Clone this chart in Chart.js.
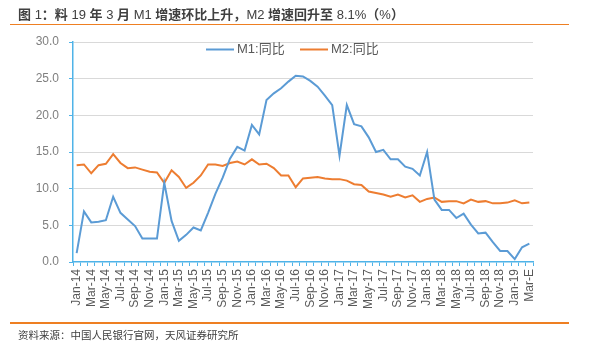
<!DOCTYPE html>
<html>
<head>
<meta charset="utf-8">
<script src="https://cdn.jsdelivr.net/npm/chart.js@4"></script>
<style>
  html, body { margin: 0; padding: 0; background: #fff; }
  #wrap { position: relative; width: 591px; height: 352px; overflow: hidden; }
  #chart { position: absolute; left: 0; top: 0; }
  .title {
    position: absolute; left: 18px; top: 4px;
    font: bold 13px "Noto Sans CJK SC", sans-serif;
    color: #404040; white-space: nowrap;
  }
  .title span { font: 13px "Liberation Sans", sans-serif; }
  .rule { position: absolute; left: 10px; width: 559px; height: 1.5px; background: #EE7F22; }
  .source {
    position: absolute; left: 18px; top: 327px;
    font: 10.5px "Noto Sans CJK SC", sans-serif;
    color: #404040; white-space: nowrap;
  }
</style>
</head>
<body>
<div id="wrap">
  <canvas id="chart" width="591" height="352"></canvas>
  <div class="title">图<span> 1</span>：料<span> 19 </span>年<span> 3 </span>月<span> M1 </span>增速环比上升，<span>M2 </span>增速回升至<span> 8.1%</span>（<span>%</span>）</div>
  <div class="rule" style="top:23.5px"></div>
  <div class="rule" style="top:322px"></div>
  <div class="source">资料来源：中国人民银行官网，天风证券研究所</div>
</div>
<script>
// months Jan-14 .. Mar-19
const months = [
  'Jan-14','Feb-14','Mar-14','Apr-14','May-14','Jun-14','Jul-14','Aug-14','Sep-14','Oct-14','Nov-14','Dec-14',
  'Jan-15','Feb-15','Mar-15','Apr-15','May-15','Jun-15','Jul-15','Aug-15','Sep-15','Oct-15','Nov-15','Dec-15',
  'Jan-16','Feb-16','Mar-16','Apr-16','May-16','Jun-16','Jul-16','Aug-16','Sep-16','Oct-16','Nov-16','Dec-16',
  'Jan-17','Feb-17','Mar-17','Apr-17','May-17','Jun-17','Jul-17','Aug-17','Sep-17','Oct-17','Nov-17','Dec-17',
  'Jan-18','Feb-18','Mar-18','Apr-18','May-18','Jun-18','Jul-18','Aug-18','Sep-18','Oct-18','Nov-18','Dec-18',
  'Jan-19','Feb-19','Mar-E'
];

const m1 = [
  1.2, 6.9, 5.4, 5.5, 5.7, 8.9, 6.7, 5.8, 4.9, 3.2, 3.2, 3.2,
  10.8, 5.6, 2.9, 3.7, 4.7, 4.3, 6.7, 9.3, 11.5, 14.1, 15.7, 15.2,
  18.7, 17.4, 22.1, 23.0, 23.7, 24.6, 25.4, 25.3, 24.7, 23.9, 22.7, 21.4,
  14.5, 21.4, 18.8, 18.5, 17.0, 15.0, 15.3, 14.0, 14.0, 13.0, 12.7, 11.8,
  15.0, 8.5, 7.1, 7.1, 6.0, 6.6, 5.1, 3.9, 4.0, 2.7, 1.5, 1.5,
  0.4, 2.0, 2.5
];

const m2 = [
  13.2, 13.3, 12.1, 13.2, 13.4, 14.7, 13.5, 12.8, 12.9, 12.6, 12.3, 12.2,
  10.8, 12.5, 11.6, 10.1, 10.8, 11.8, 13.3, 13.3, 13.1, 13.5, 13.7, 13.3,
  14.0, 13.3, 13.4, 12.8, 11.8, 11.8, 10.2, 11.4, 11.5, 11.6, 11.4, 11.3,
  11.3, 11.1, 10.6, 10.5, 9.6, 9.4, 9.2, 8.9, 9.2, 8.8, 9.1, 8.2,
  8.6, 8.8, 8.2, 8.3, 8.3, 8.0, 8.5, 8.2, 8.3, 8.0, 8.0, 8.1,
  8.4, 8.0, 8.1
];

const seriesNames = ['M1:同比', 'M2:同比'];
const seriesColors = ['#5B9BD5', '#ED7D31'];
const yTicks = [0, 5, 10, 15, 20, 25, 30];

const axisBlue = '#4FB3E8';
const font = '"Liberation Sans", "Noto Sans CJK SC", sans-serif';

// legend drawn inside the plot area, as in the original
const inlineLegend = {
  id: 'inlineLegend',
  afterDraw(chart) {
    const ctx = chart.ctx;
    const y = 49.5;
    const starts = [206, 300];
    ctx.save();
    ctx.font = '13px ' + font;
    ctx.textBaseline = 'middle';
    chart.data.datasets.forEach((ds, i) => {
      const x = starts[i];
      ctx.strokeStyle = ds.borderColor;
      ctx.lineWidth = 2;
      ctx.beginPath();
      ctx.moveTo(x, y);
      ctx.lineTo(x + 28, y);
      ctx.stroke();
      ctx.fillStyle = '#595959';
      ctx.fillText(ds.label, x + 31, y);
    });
    ctx.restore();
  }
};

new Chart(document.getElementById('chart'), {
  type: 'line',
  data: {
    labels: months,
    datasets: [
      { label: seriesNames[0], data: m1, borderColor: seriesColors[0], borderWidth: 2 },
      { label: seriesNames[1], data: m2, borderColor: seriesColors[1], borderWidth: 2 }
    ]
  },
  options: {
    responsive: false,
    animation: false,
    events: [],
    elements: { point: { radius: 0 }, line: { tension: 0 } },
    layout: { padding: { left: 0, right: 58, top: 42, bottom: 35 } },
    plugins: { legend: { display: false }, tooltip: { enabled: false } },
    scales: {
      x: {
        offset: true,
        afterFit: s => { s.height = 55; },
        grid: {
          offset: true,
          drawOnChartArea: false,
          drawTicks: true,
          tickLength: 4,
          tickColor: axisBlue
        },
        border: { color: axisBlue, width: 1.5 },
        ticks: {
          autoSkip: false,
          minRotation: 90,
          maxRotation: 90,
          padding: 3,
          color: '#595959',
          font: { family: font, size: 12 },
          callback: (v, i) => (i % 2 === 0 ? months[i] : '')
        }
      },
      y: {
        min: yTicks[0],
        max: yTicks[yTicks.length - 1],
        afterFit: s => { s.width = 73; },
        afterBuildTicks: s => { s.ticks = yTicks.map(v => ({ value: v })); },
        grid: {
          color: c => (c.tick && c.tick.value === 0 ? 'rgba(0,0,0,0)' : '#D9D9D9'),
          lineWidth: 1,
          tickLength: 4,
          tickColor: axisBlue
        },
        border: { color: axisBlue, width: 1.5 },
        ticks: {
          padding: 10,
          color: '#7F7F7F',
          font: { family: font, size: 12 },
          callback: v => v.toFixed(1)
        }
      }
    }
  },
  plugins: [inlineLegend]
});
</script>
</body>
</html>
